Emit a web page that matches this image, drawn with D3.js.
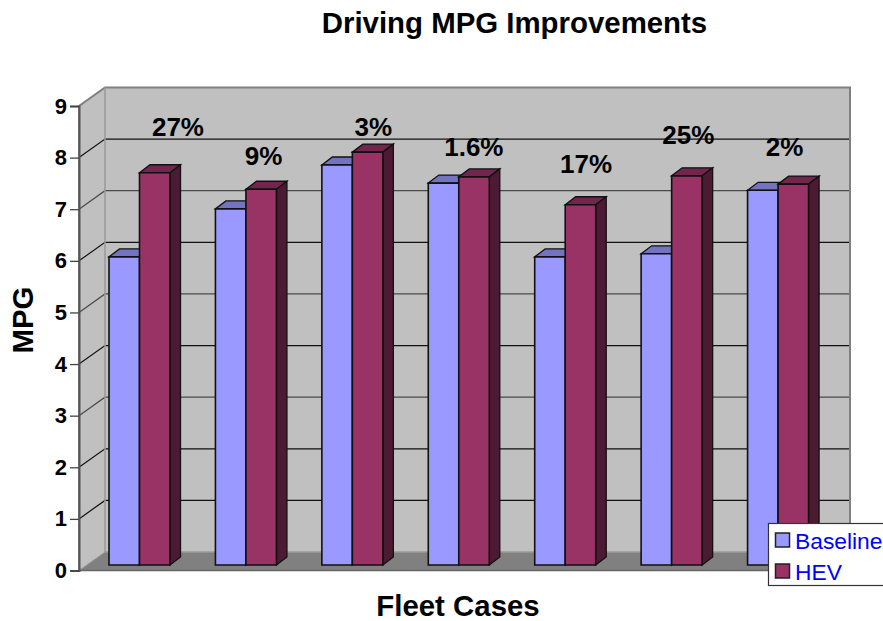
<!DOCTYPE html>
<html><head><meta charset="utf-8">
<script src="https://cdn.jsdelivr.net/npm/d3@7"></script>
<style>html,body{margin:0;padding:0;background:#fff}svg{display:block}text{font-family:"Liberation Sans",Arial,sans-serif}</style>
</head><body><svg id="c" width="883" height="621"></svg>
<script>
const categories = ["Case 1","Case 2","Case 3","Case 4","Case 5","Case 6","Case 7"];
const baseline = [5.97,6.9,7.75,7.4,5.97,6.03,7.26];
const hev = [7.6,7.28,8.0,7.52,6.98,7.54,7.38];
const improvementLabels = ["27%","9%","3%","1.6%","17%","25%","2%"];
const labelMpg = [8.41,7.86,8.41,8.03,7.7,8.26,8.03];
const labelCategoryShift = [0.43,0.235,0.265,0.21,0.265,0.225,0.13];
const yTicks = [0,1,2,3,4,5,6,7,8,9];
const seriesNames = ["Baseline","HEV"];
const seriesFront = ["#9999ff","#993366"];
const seriesTop = ["#7373bf","#73264d"];
const seriesSide = ["#4d4d80","#4d1a33"];

const svg = d3.select("#c");
const x0=79, x1=824, y0=570.5, y9=106;
const wallDx=26, wallDy=-18.5, barDx=10.5, barDy=-8, barLift=5.5;
const y = d3.scaleLinear().domain([0,9]).range([y0,y9]);
const x = d3.scaleBand().domain(categories).range([x0,x1]).paddingInner(0).paddingOuter(0);
const inner = d3.scaleBand().domain(seriesNames).range([30,91]);
const poly = (pts,fill,stroke,sw)=>svg.append("polygon").attr("points",pts.map(p=>p.join(",")).join(" ")).attr("fill",fill).attr("stroke",stroke||"none").attr("stroke-width",sw||0);

// walls and floor
poly([[x0+wallDx,y(9)+wallDy],[x1+wallDx,y(9)+wallDy],[x1+wallDx,y0+wallDy],[x0+wallDx,y0+wallDy]],"#c0c0c0");
poly([[x0,y(9)],[x0+wallDx,y(9)+wallDy],[x0+wallDx,y0+wallDy],[x0,y0]],"#c0c0c0");
poly([[x0,y0],[x0+wallDx,y0+wallDy],[x1+wallDx,y0+wallDy],[x1,y0]],"#808080");

// gridlines
yTicks.filter(t=>t>0&&t<9).forEach(t=>{
  const c=(t===3||t===5||t===7)?"#4a4a4a":"#111";
  svg.append("path").attr("d",`M${x0},${y(t)}L${x0+wallDx},${y(t)+wallDy}L${x1+wallDx},${y(t)+wallDy}`)
    .attr("fill","none").attr("stroke",c).attr("stroke-width",1.2);
});
// wall borders
const bc="#808080";
svg.append("path").attr("d",`M${x0},${y0}V${y(9)}L${x0+wallDx},${y(9)+wallDy}H${x1+wallDx}V${y0+wallDy}`).attr("fill","none").attr("stroke",bc).attr("stroke-width",2);
svg.append("path").attr("d",`M${x0+wallDx},${y(9)+wallDy}V${y0+wallDy}H${x1+wallDx}`).attr("fill","none").attr("stroke","#999").attr("stroke-width",1.5);
svg.append("path").attr("d",`M${x0},${y0}L${x0+wallDx},${y0+wallDy}`).attr("fill","none").attr("stroke","#999").attr("stroke-width",1);
svg.append("path").attr("d",`M${x0},${y0}H${x1}L${x1+wallDx},${y0+wallDy}`).attr("fill","none").attr("stroke","#666").attr("stroke-width",1.5);

// axis
const axis = d3.axisLeft(y).tickValues(yTicks).tickSize(9).tickPadding(3).tickFormat(d3.format("d"));
const ag = svg.append("g").attr("transform",`translate(${x0},0)`).call(axis);
ag.select(".domain").attr("stroke","#555").attr("stroke-width",2);
ag.selectAll(".tick line").attr("stroke","#444").attr("stroke-width",1.3);
ag.selectAll("text").attr("font-size",22).attr("font-weight","bold").attr("fill","#000").style("font-family",'"Liberation Sans",Arial,sans-serif');

// bars
const barStroke="#111";
categories.forEach((c,i)=>{
  [baseline[i],hev[i]].forEach((v,s)=>{
    const name=seriesNames[s];
    const l=x(c)+inner(name), w=inner.bandwidth(), b=y(0)-barLift, t=y(v)-barLift;
    poly([[l,t],[l+barDx,t+barDy],[l+w+barDx,t+barDy],[l+w,t]],seriesTop[s],barStroke,1.3);
    poly([[l+w,t],[l+w+barDx,t+barDy],[l+w+barDx,b+barDy],[l+w,b]],seriesSide[s],barStroke,1.3);
    poly([[l,t],[l+w,t],[l+w,b],[l,b]],seriesFront[s],barStroke,1.6);
  });
});

// improvement labels
improvementLabels.forEach((s,i)=>{
  svg.append("text").attr("x",x(categories[i])+x.bandwidth()*(0.5+labelCategoryShift[i])).attr("y",y(labelMpg[i]))
    .attr("text-anchor","middle").attr("font-size",26).attr("font-weight","bold").attr("fill","#000").text(s);
});

// titles
svg.append("text").attr("x",514.5).attr("y",33).attr("text-anchor","middle").attr("font-size",29.4).attr("font-weight","bold").text("Driving MPG Improvements");
svg.append("text").attr("x",458).attr("y",616).attr("text-anchor","middle").attr("font-size",29.4).attr("font-weight","bold").text("Fleet Cases");
svg.append("text").attr("transform","translate(33,320) rotate(-90)").attr("text-anchor","middle").attr("font-size",29.4).attr("font-weight","bold").text("MPG");

// legend
svg.append("rect").attr("x",768.5).attr("y",523.5).attr("width",116).attr("height",62).attr("fill","#fff").attr("stroke","#333").attr("stroke-width",1.2);
seriesNames.forEach((n,i)=>{
  const yy=533+i*31;
  svg.append("rect").attr("x",775.5).attr("y",yy).attr("width",14).attr("height",14).attr("fill",seriesFront[i]).attr("stroke","#222").attr("stroke-width",1.5);
  svg.append("text").attr("x",795).attr("y",yy+15.5).attr("font-size",22.8).attr("fill","#0000ff").text(n);
});
</script></body></html>
